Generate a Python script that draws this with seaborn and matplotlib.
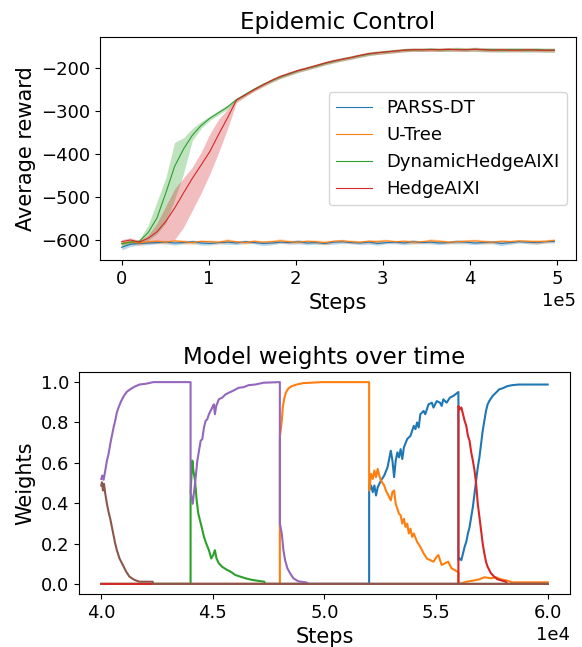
import numpy as np
import matplotlib
matplotlib.use("Agg")
import matplotlib.pyplot as plt
import seaborn as sns


# ---- top panel: average reward ----
STEPS = np.linspace(0, 4.97e5, 50)

parss_mean = [-616, -609, -607, -606, -605, -604, -606, -605, -603, -606,
              -607, -605, -604, -606, -603, -605, -607, -606, -604, -605,
              -603, -606, -605, -607, -604, -603, -605, -606, -604, -607,
              -605, -604, -606, -603, -605, -604, -606, -605, -603, -604,
              -606, -605, -604, -607, -605, -603, -604, -605, -603, -602]
parss_err = [6, 5, 4, 4, 3, 4, 5, 3, 4, 5, 4, 3, 5, 4, 4, 3, 5, 4, 3, 4,
             5, 4, 4, 3, 5, 4, 3, 4, 5, 4, 3, 4, 4, 5, 3, 4, 4, 3, 5, 4,
             4, 3, 4, 5, 4, 3, 4, 4, 3, 4]

utree_mean = [-607, -604, -606, -603, -602, -604, -601, -603, -605, -602,
              -603, -604, -601, -603, -605, -602, -604, -603, -601, -603,
              -604, -602, -603, -605, -602, -601, -603, -604, -602, -603,
              -601, -603, -602, -604, -603, -601, -602, -604, -603, -602,
              -601, -603, -604, -602, -603, -601, -602, -603, -602, -600]
utree_err = [4, 4, 5, 3, 4, 4, 3, 5, 4, 3, 4, 4, 5, 3, 4, 4, 3, 4, 5, 4,
             3, 4, 4, 5, 3, 4, 4, 3, 4, 5, 4, 3, 4, 4, 3, 5, 4, 4, 3, 4,
             4, 5, 3, 4, 4, 3, 4, 5, 4, 4]

dyn_mean = [-608, -604, -602, -582, -548, -490, -428, -388, -356, -333,
            -316, -303, -290, -273, -261, -249, -238, -229, -220, -213,
            -206, -200, -195, -189, -184, -179, -175, -171, -167, -164,
            -162, -160, -158, -157, -157, -156, -157, -157, -156, -157,
            -156, -157, -157, -158, -157, -157, -158, -157, -158, -158]
dyn_lo = [-612, -608, -606, -600, -585, -560, -505, -445, -368, -340,
          -321, -308, -295, -277, -265, -253, -242, -233, -224, -217,
          -210, -204, -199, -193, -188, -183, -179, -175, -171, -168,
          -166, -164, -162, -161, -161, -160, -161, -161, -160, -161,
          -161, -162, -162, -163, -162, -162, -163, -162, -163, -163]
dyn_hi = [-604, -600, -598, -565, -510, -455, -372, -362, -340, -324,
          -311, -298, -285, -269, -257, -245, -234, -225, -216, -209,
          -202, -196, -191, -185, -180, -175, -171, -167, -163, -160,
          -158, -156, -154, -153, -153, -152, -153, -152, -151, -152,
          -151, -152, -152, -153, -152, -152, -153, -152, -153, -153]

hedge_mean = [-603, -599, -604, -595, -580, -556, -525, -490, -456, -425,
              -393, -353, -315, -274, -262, -250, -239, -228, -219, -212,
              -205, -200, -194, -188, -183, -179, -175, -170, -166, -164,
              -162, -160, -158, -157, -157, -157, -157, -156, -157, -157,
              -156, -157, -158, -157, -158, -158, -157, -158, -158, -158]
hedge_lo = [-608, -604, -608, -606, -606, -603, -598, -570, -530, -490,
            -445, -395, -340, -280, -266, -254, -243, -232, -223, -216,
            -209, -204, -198, -192, -187, -183, -179, -174, -170, -168,
            -166, -164, -162, -161, -161, -161, -161, -160, -161, -161,
            -160, -161, -162, -161, -162, -162, -161, -162, -162, -162]
hedge_hi = [-598, -594, -600, -588, -560, -520, -480, -455, -430, -395,
            -352, -318, -295, -270, -258, -246, -235, -224, -215, -208,
            -201, -196, -190, -184, -179, -175, -171, -166, -162, -160,
            -158, -156, -154, -153, -153, -153, -153, -152, -153, -153,
            -152, -153, -154, -153, -154, -154, -153, -154, -154, -154]

# ---- bottom panel: model weights, breakpoints per model ----
w_blue_x = [40000, 52000, 52000, 52088, 52162, 52235, 52309, 52382, 52529, 52676,
            52824, 52971, 53044, 53118, 53191, 53265, 53338, 53412, 53485, 53559,
            53706, 53853, 54000, 54074, 54147, 54221, 54294, 54441, 54515, 54662,
            54809, 54882, 55029, 55176, 55250, 55324, 55471, 55618, 55765, 56000,
            56000, 56059, 56132, 56206, 56279, 56353, 56426, 56500, 56574, 56647,
            56721, 56794, 56868, 56941, 57015, 57088, 57162, 57235, 57309, 57382,
            57529, 57676, 57823, 57971, 58191, 58412, 58706, 60000]
w_blue_y = [0, 0, 0.463, 0.488, 0.455, 0.488, 0.438, 0.479, 0.512, 0.537,
            0.578, 0.660, 0.611, 0.529, 0.611, 0.652, 0.627, 0.668, 0.619, 0.677,
            0.718, 0.734, 0.783, 0.767, 0.800, 0.775, 0.841, 0.857, 0.841, 0.890,
            0.898, 0.874, 0.906, 0.898, 0.882, 0.915, 0.898, 0.923, 0.931, 0.951,
            0.118, 0.126, 0.118, 0.151, 0.184, 0.209, 0.250, 0.282, 0.332, 0.381,
            0.447, 0.512, 0.578, 0.627, 0.693, 0.759, 0.808, 0.857, 0.890, 0.906,
            0.931, 0.947, 0.964, 0.969, 0.980, 0.985, 0.988, 0.988]

w_orange_x = [40000, 48000, 48000, 48086, 48130, 48190, 48264, 48383, 48531, 48754,
              49051, 49867, 52000, 52000, 52088, 52162, 52235, 52309, 52382, 52456,
              52529, 52676, 52750, 52824, 52971, 53044, 53118, 53191, 53265, 53338,
              53412, 53485, 53559, 53632, 53706, 53779, 53853, 53926, 54000, 54147,
              54294, 54441, 54588, 54735, 54882, 55029, 55103, 55250, 55397, 55544,
              55691, 55838, 56000, 56000, 56132, 56353, 56647, 56941, 57162, 57456,
              57676, 57897, 58191, 58412, 60000]
w_orange_y = [0, 0, 0.726, 0.808, 0.874, 0.915, 0.947, 0.969, 0.980, 0.988,
              0.995, 1.0, 1.0, 0.463, 0.545, 0.520, 0.562, 0.529, 0.570, 0.537,
              0.512, 0.488, 0.463, 0.447, 0.414, 0.455, 0.463, 0.397, 0.373, 0.348,
              0.340, 0.299, 0.323, 0.282, 0.299, 0.250, 0.274, 0.233, 0.250, 0.209,
              0.184, 0.151, 0.126, 0.118, 0.110, 0.135, 0.143, 0.094, 0.102, 0.110,
              0.077, 0.069, 0.057, 0, 0.003, 0.011, 0.016, 0.023, 0.033, 0.028,
              0.033, 0.023, 0.016, 0.008, 0.008]

w_green_x = [40000, 44000, 44000, 44080, 44125, 44200, 44273, 44347, 44421, 44496,
             44600, 44703, 44822, 44926, 45015, 45089, 45163, 45267, 45415, 45594,
             45786, 46009, 46231, 46454, 46751, 47048, 47300, 47344, 60000]
w_green_y = [0, 0, 0.455, 0.611, 0.562, 0.512, 0.414, 0.348, 0.315, 0.282,
             0.233, 0.200, 0.167, 0.126, 0.143, 0.167, 0.126, 0.102, 0.085, 0.072,
             0.061, 0.044, 0.036, 0.028, 0.020, 0.015, 0.011, 0, 0]

w_red_x = [40000, 56000, 56000, 56059, 56132, 56206, 56279, 56353, 56426, 56500,
           56574, 56647, 56721, 56794, 56868, 56941, 57015, 57088, 57162, 57235,
           57309, 57456, 57603, 57750, 57971, 58118, 58191, 60000]
w_red_y = [0, 0, 0.882, 0.865, 0.874, 0.841, 0.808, 0.783, 0.734, 0.709,
           0.652, 0.611, 0.562, 0.496, 0.397, 0.332, 0.266, 0.200, 0.151, 0.110,
           0.085, 0.053, 0.036, 0.023, 0.016, 0.011, 0, 0]

w_purple_x = [40000, 40045, 40104, 40178, 40252, 40326, 40401, 40475, 40549, 40623,
              40697, 40772, 40890, 41009, 41142, 41291, 41484, 41706, 42003, 42329,
              44000, 44000, 44095, 44154, 44229, 44303, 44377, 44451, 44525, 44600,
              44674, 44748, 44822, 44970, 45044, 45089, 45149, 45267, 45415, 45564,
              45712, 45935, 46157, 46380, 46603, 46899, 47270, 48000, 48000, 48086,
              48160, 48234, 48338, 48457, 48605, 48828, 49199, 49273, 60000]
w_purple_y = [0.520, 0.537, 0.516, 0.562, 0.611, 0.644, 0.693, 0.734, 0.775, 0.808,
              0.849, 0.874, 0.906, 0.931, 0.952, 0.964, 0.977, 0.988, 0.992, 1.0,
              1.0, 0.455, 0.397, 0.455, 0.529, 0.611, 0.660, 0.709, 0.718, 0.775,
              0.808, 0.816, 0.841, 0.874, 0.890, 0.841, 0.882, 0.915, 0.923, 0.939,
              0.947, 0.959, 0.972, 0.975, 0.985, 0.988, 0.997, 1.0, 0.299, 0.250,
              0.167, 0.118, 0.077, 0.053, 0.028, 0.013, 0.007, 0, 0]

w_brown_x = [40000, 40030, 40074, 40119, 40178, 40252, 40326, 40401, 40475, 40549,
             40623, 40697, 40816, 40964, 41113, 41261, 41484, 41706, 42300, 42329,
             60000]
w_brown_y = [0.488, 0.504, 0.463, 0.496, 0.447, 0.397, 0.356, 0.323, 0.282, 0.241,
             0.200, 0.167, 0.126, 0.094, 0.061, 0.036, 0.020, 0.011, 0.011, 0,
             0]

PALETTE = sns.color_palette("tab10")


def plot_rewards(ax):
    series = [
        ("PARSS-DT", parss_mean, np.array(parss_mean) - parss_err, np.array(parss_mean) + parss_err),
        ("U-Tree", utree_mean, np.array(utree_mean) - utree_err, np.array(utree_mean) + utree_err),
        ("DynamicHedgeAIXI", dyn_mean, dyn_lo, dyn_hi),
        ("HedgeAIXI", hedge_mean, hedge_lo, hedge_hi),
    ]
    handles = []
    for i, (name, mean, lo, hi) in enumerate(series):
        sns.lineplot(x=STEPS, y=mean, ax=ax, color=PALETTE[i], linewidth=0.8)
        handles.append(ax.get_lines()[-1])
        handles[-1].set_label(name)
        ax.fill_between(STEPS, lo, hi, color=PALETTE[i], alpha=0.3, linewidth=0)

    ax.set_title("Epidemic Control", fontsize=16.5)
    ax.set_xlabel("Steps", fontsize=15)
    ax.set_ylabel("Average reward", fontsize=15)
    ax.set_yticks([-600, -500, -400, -300, -200])
    ax.ticklabel_format(axis="x", style="sci", scilimits=(0, 0))
    ax.tick_params(labelsize=13)
    ax.xaxis.get_offset_text().set_fontsize(13)
    ax.legend(handles=handles, loc="center right", fontsize=13)


def plot_weights(ax):
    weights = [
        (w_blue_x, w_blue_y),
        (w_orange_x, w_orange_y),
        (w_green_x, w_green_y),
        (w_red_x, w_red_y),
        (w_purple_x, w_purple_y),
        (w_brown_x, w_brown_y),
    ]
    for i, (xs, ys) in enumerate(weights):
        sns.lineplot(x=xs, y=ys, ax=ax, color=PALETTE[i], linewidth=1.5,
                     estimator=None, sort=False)

    ax.set_title("Model weights over time", fontsize=16.5)
    ax.set_xlabel("Steps", fontsize=15)
    ax.set_ylabel("Weights", fontsize=15)
    ax.set_xticks([40000, 45000, 50000, 55000, 60000])
    ax.set_yticks([0.0, 0.2, 0.4, 0.6, 0.8, 1.0])
    ax.ticklabel_format(axis="x", style="sci", scilimits=(0, 0))
    ax.tick_params(labelsize=13)
    ax.xaxis.get_offset_text().set_fontsize(13)


fig = plt.figure(figsize=(5.82, 6.47), dpi=100)
ax_top = fig.add_axes([0.1718, 0.5981, 0.8179, 0.3447])
ax_bot = fig.add_axes([0.1357, 0.0819, 0.8437, 0.3431])

plot_rewards(ax_top)
plot_weights(ax_bot)

fig.savefig("out.png", dpi=100)
